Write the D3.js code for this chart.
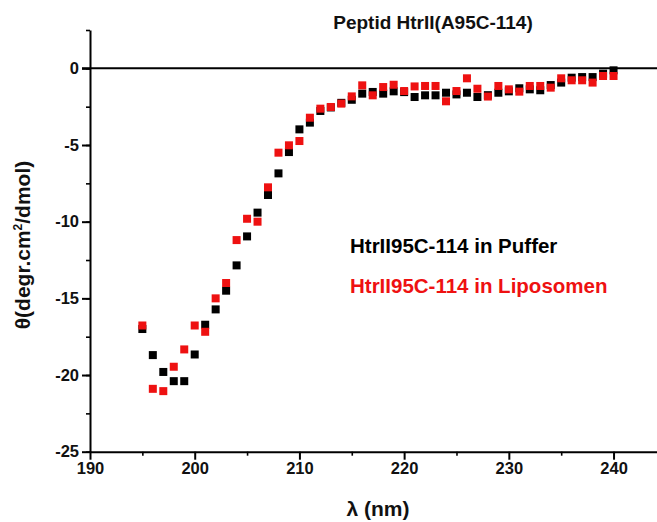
<!DOCTYPE html>
<html>
<head>
<meta charset="utf-8">
<script src="https://cdn.jsdelivr.net/npm/d3@7"></script>
<style>
  html, body { margin: 0; padding: 0; background: #fff; }
  svg { display: block; font-family: Arial, "Liberation Sans", sans-serif; }
</style>
</head>
<body>
<svg id="chart" width="657" height="522"></svg>
<script>
// Wavelengths (nm), 195..240 in 1 nm steps
const wavelengths = [195,196,197,198,199,200,201,202,203,204,205,206,207,208,209,210,
  211,212,213,214,215,216,217,218,219,220,221,222,223,224,225,226,227,228,229,230,
  231,232,233,234,235,236,237,238,239,240];

// Mean residue ellipticity, peptide in buffer
const puffer = [-17.0,-18.7,-19.8,-20.4,-20.4,-18.66,-16.72,-15.72,-14.5,-12.85,-10.96,-9.41,-8.26,-6.85,-5.46,-3.98,
  -3.54,-2.78,-2.55,-2.25,-2.05,-1.65,-1.54,-1.65,-1.5,-1.55,-1.87,-1.76,-1.76,-1.59,-1.7,-1.59,-1.87,-1.75,-1.59,-1.5,
  -1.3,-1.37,-1.43,-1.09,-0.93,-0.61,-0.57,-0.57,-0.35,-0.13];

// Mean residue ellipticity, peptide in liposomes
const liposomen = [-16.77,-20.9,-21.05,-19.46,-18.33,-16.77,-17.18,-15.0,-14.0,-11.2,-9.81,-10.0,-7.76,-5.5,-5.02,-4.74,
  -3.22,-2.63,-2.52,-2.3,-1.83,-1.11,-1.76,-1.22,-1.07,-1.48,-1.18,-1.15,-1.15,-2.15,-1.48,-0.65,-1.33,-1.84,-1.15,-1.37,
  -1.52,-1.15,-1.15,-1.26,-0.65,-0.78,-0.78,-0.93,-0.5,-0.5];

const xTicks = [190,200,210,220,230,240];
const yTicks = [0,-5,-10,-15,-20,-25];

const seriesNames = ["HtrII95C-114 in Puffer", "HtrII95C-114 in Liposomen"];
const seriesColors = ["#000000", "#ee1111"];
const titleText = "Peptid HtrII(A95C-114)";

const FONT = "Arial, 'Liberation Sans', sans-serif";
const plainInt = d => String(d);   // ASCII hyphen for negatives

const svg = d3.select("#chart");

const x = d3.scaleLinear().domain([190, 245]).range([90, 665.9]);
const y = d3.scaleLinear().domain([-25, 2.5]).range([451.7, 30]);

// zero reference line
svg.append("line")
  .attr("x1", x(190) - 8).attr("x2", 657)
  .attr("y1", y(0)).attr("y2", y(0))
  .attr("stroke", "#000").attr("stroke-width", 2);

// minor ticks
const minorY = d3.range(-25, 2.51, 2.5);
svg.append("g").attr("transform", `translate(${x(190)},0)`)
  .call(d3.axisLeft(y).tickValues(minorY).tickSize(4).tickFormat(""))
  .call(g => g.select(".domain").remove())
  .selectAll("line").attr("stroke-width", 1.6);
const minorX = d3.range(195, 246, 10);
svg.append("g").attr("transform", `translate(0,${y(-25)})`)
  .call(d3.axisBottom(x).tickValues(minorX).tickSize(4).tickFormat(""))
  .call(g => g.select(".domain").remove())
  .selectAll("line").attr("stroke-width", 1.6);

// y axis
const yAxis = svg.append("g").attr("transform", `translate(${x(190)},0)`)
  .call(d3.axisLeft(y).tickValues(yTicks).tickSize(8).tickSizeOuter(0).tickPadding(3).tickFormat(plainInt));
yAxis.select(".domain").attr("stroke-width", 2);
yAxis.selectAll("line").attr("stroke-width", 2);
yAxis.selectAll("text").attr("font-size", 16.5).attr("font-weight", "bold").attr("fill", "#111")
  .attr("font-family", FONT);

// x axis
const xAxis = svg.append("g").attr("transform", `translate(0,${y(-25)})`)
  .call(d3.axisBottom(x).tickValues(xTicks).tickSize(8).tickSizeOuter(0).tickPadding(3).tickFormat(plainInt));
xAxis.select(".domain").attr("stroke-width", 2);
xAxis.selectAll("line").attr("stroke-width", 2);
xAxis.selectAll("text").attr("font-size", 16.5).attr("font-weight", "bold").attr("fill", "#111")
  .attr("font-family", FONT);

// data markers
const ms = 8;
[puffer, liposomen].forEach((vals, i) => {
  svg.append("g").selectAll("rect")
    .data(wavelengths.map((w, k) => ({ w, v: vals[k] })))
    .join("rect")
    .attr("x", d => x(d.w) - ms / 2)
    .attr("y", d => y(d.v) - ms / 2)
    .attr("width", ms).attr("height", ms)
    .attr("fill", seriesColors[i]);
});

// title
svg.append("text")
  .attr("x", 433).attr("y", 29)
  .attr("text-anchor", "middle")
  .attr("font-size", 19).attr("font-weight", "bold").attr("fill", "#111")
  .text(titleText);

// legend text
seriesNames.forEach((name, i) => {
  svg.append("text")
    .attr("x", 350).attr("y", 253 + i * 40)
    .attr("font-size", 20.5).attr("font-weight", "bold")
    .attr("fill", seriesColors[i])
    .text(name);
});

// axis titles
svg.append("text")
  .attr("x", 378).attr("y", 516)
  .attr("text-anchor", "middle")
  .attr("font-size", 21).attr("font-weight", "bold").attr("fill", "#111")
  .text("λ (nm)");

const yl = svg.append("text")
  .attr("transform", "translate(30,245) rotate(-90)")
  .attr("text-anchor", "middle")
  .attr("font-size", 21).attr("font-weight", "bold").attr("fill", "#111");
yl.append("tspan").text("θ(degr.cm");
yl.append("tspan").attr("dy", -8).attr("font-size", 12).text("2");
yl.append("tspan").attr("dy", 8).text("/dmol)");
</script>
</body>
</html>
